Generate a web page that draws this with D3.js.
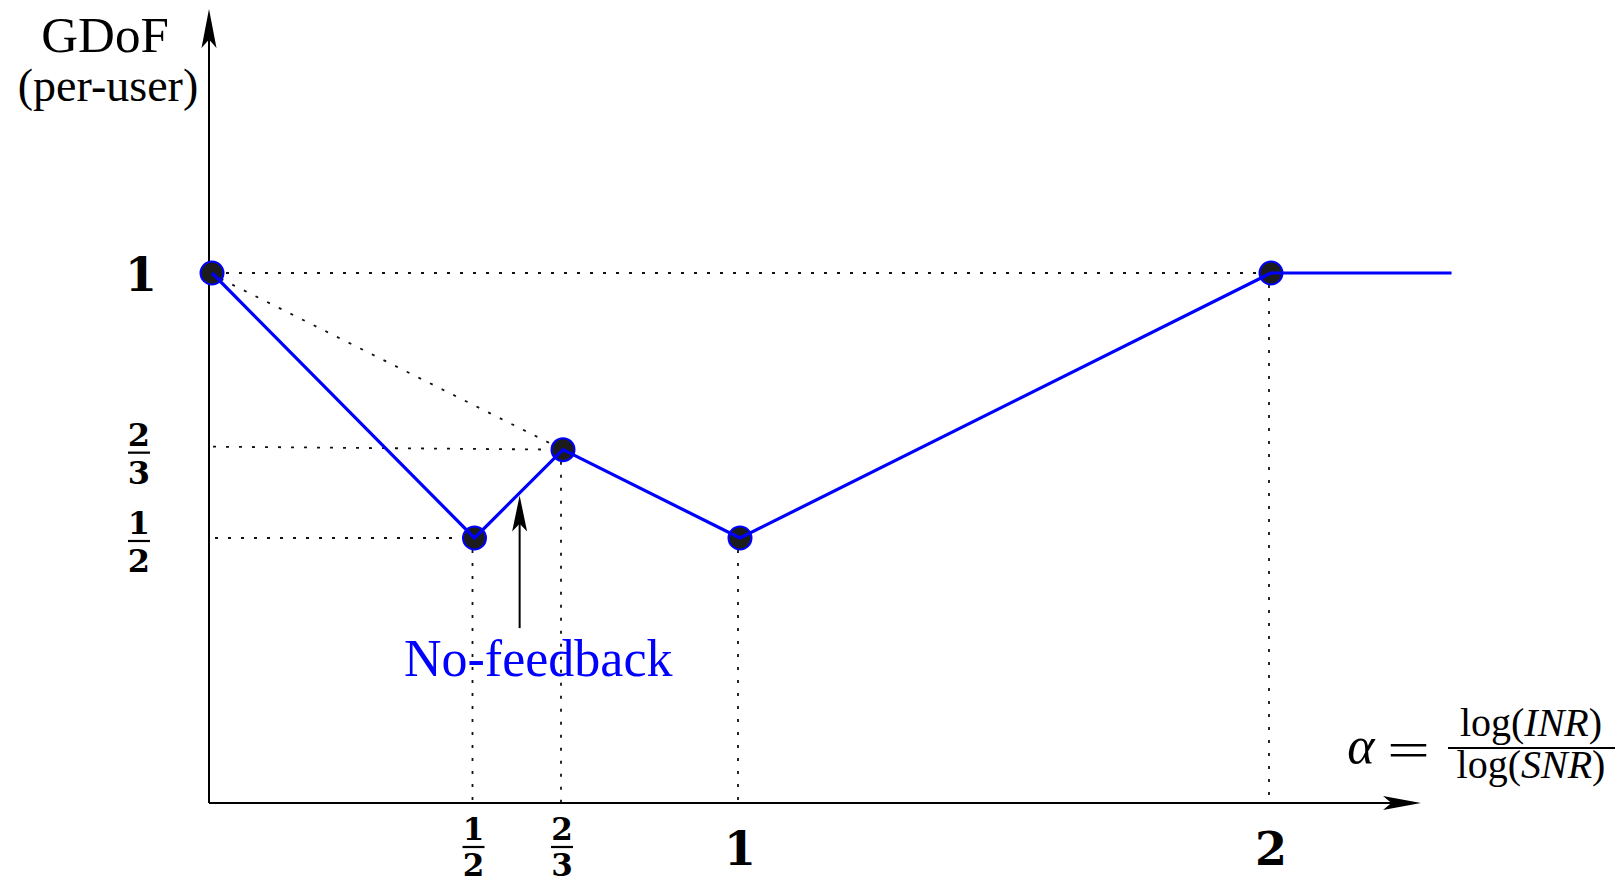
<!DOCTYPE html>
<html>
<head>
<meta charset="utf-8">
<script src="https://cdn.jsdelivr.net/npm/d3@7/dist/d3.min.js"></script>
<style>
  html, body { margin: 0; padding: 0; background: #fff; }
  svg { display: block; }
  text { font-family: "Liberation Serif", "DejaVu Serif", serif; }
  .num { font-family: "DejaVu Serif", "Liberation Serif", serif; font-weight: bold; }
</style>
</head>
<body>
<svg id="chart" width="1621" height="886"></svg>
<script>
// ---- data ----
const alphaValues = [0, 1/2, 2/3, 1, 2, 2.34];
const gdofValues  = [1, 1/2, 2/3, 1/2, 1, 1];
const markerCount = 5;               // markers on the first five points
const xTickValues = [1/2, 2/3, 1, 2];
const xTickLabels = [["1","2"], ["2","3"], "1", "2"];
const yTickValues = [1, 2/3, 1/2];
const yTickLabels = ["1", ["2","3"], ["1","2"]];
const annotationText = "No-feedback";
const annotationAlpha = 0.585;       // arrow position (data units)
const annotationFrom = 0.33, annotationTo = 0.58;
const annotationTextAt = [0.62, 0.24];

// ---- scales ----
const x = d3.scaleLinear().domain([0, 2]).range([209, 1271]);
const y = d3.scaleLinear().domain([0, 1]).range([803, 273]);

const svg = d3.select("#chart");

function arrowHead(g, tipX, tipY, dir, len, hw) {
  let pts;
  if (dir === "right") {
    pts = [[tipX, tipY], [tipX - len, tipY - hw], [tipX - len * 0.78, tipY], [tipX - len, tipY + hw]];
  } else {
    pts = [[tipX, tipY], [tipX - hw, tipY + len], [tipX, tipY + len * 0.78], [tipX + hw, tipY + len]];
  }
  g.append("path").attr("d", "M" + pts.map(p => p.join(",")).join("L") + "Z").attr("fill", "#000");
}

// ---- dotted guides ----
const guides = svg.append("g").attr("stroke", "#111").attr("stroke-width", 1.8)
  .attr("stroke-dasharray", "3,10").attr("fill", "none");
const pts = alphaValues.map((a, i) => [a, gdofValues[i]]);
guides.append("line").attr("x1", x(0) + 4).attr("y1", y(1)).attr("x2", x(2)).attr("y2", y(1));
guides.append("line").attr("x1", x(0) + 4).attr("y1", y(2/3) - 3).attr("x2", x(2/3)).attr("y2", y(2/3));
guides.append("line").attr("x1", x(0) + 6).attr("y1", y(1/2)).attr("x2", x(1/2)).attr("y2", y(1/2));
guides.append("line").attr("x1", x(0)).attr("y1", y(1)).attr("x2", x(2/3)).attr("y2", y(2/3));
pts.slice(1, markerCount).forEach(p => {
  guides.append("line").attr("x1", x(p[0]) - 2).attr("y1", y(p[1]) + 12).attr("x2", x(p[0]) - 2).attr("y2", y(0));
});

// ---- axes ----
const axes = svg.append("g");
axes.append("line").attr("x1", x(0)).attr("y1", y(0)).attr("x2", 1400).attr("y2", y(0))
  .attr("stroke", "#000").attr("stroke-width", 2);
arrowHead(axes, 1421, y(0), "right", 38, 7);
axes.append("line").attr("x1", x(0)).attr("y1", y(0)).attr("x2", x(0)).attr("y2", 30)
  .attr("stroke", "#000").attr("stroke-width", 2);
arrowHead(axes, x(0), 9, "up", 39, 7.5);

// ---- markers & line ----
svg.append("g").selectAll("circle").data(pts.slice(0, markerCount)).join("circle")
  .attr("cx", d => x(d[0]) + (d[0] === 0 ? 3 : 0)).attr("cy", d => y(d[1]))
  .attr("r", 11.5).attr("fill", "#1c1c1c").attr("stroke", "#0000ff").attr("stroke-width", 2);

const line = d3.line().x(d => x(d[0]) + (d[0] === 0 ? 3 : 0)).y(d => y(d[1]));
svg.append("path").datum(pts).attr("d", line)
  .attr("fill", "none").attr("stroke", "#0000ff").attr("stroke-width", 3.2).attr("stroke-linejoin", "round");

// ---- tick labels ----
function fraction(g, cx, barY, num, den, size, barW, denOff) {
  g.append("text").attr("class", "num").attr("x", cx).attr("y", barY - 7).attr("text-anchor", "middle")
    .attr("font-size", size).text(num);
  g.append("line").attr("x1", cx - barW / 2).attr("x2", cx + barW / 2).attr("y1", barY).attr("y2", barY)
    .attr("stroke", "#000").attr("stroke-width", 2.2);
  g.append("text").attr("class", "num").attr("x", cx).attr("y", barY + denOff).attr("text-anchor", "middle")
    .attr("font-size", size).text(den);
}
const ticks = svg.append("g").attr("fill", "#000");
xTickValues.forEach((v, i) => {
  const lab = xTickLabels[i];
  if (Array.isArray(lab)) fraction(ticks, x(v) - 1, y(0) + 44, lab[0], lab[1], 31, 22, 29);
  else ticks.append("text").attr("class", "num").attr("x", x(v)).attr("y", y(0) + 62).attr("text-anchor", "middle")
    .attr("font-size", 46).text(lab);
});
yTickValues.forEach((v, i) => {
  const lab = yTickLabels[i];
  if (Array.isArray(lab)) fraction(ticks, 139, y(v) + 3, lab[0], lab[1], 32, 22, 31);
  else ticks.append("text").attr("class", "num").attr("x", 141).attr("y", y(v) + 18).attr("text-anchor", "middle")
    .attr("font-size", 46).text(lab);
});

// ---- axis titles ----
svg.append("text").attr("x", 105).attr("y", 52).attr("text-anchor", "middle")
  .attr("font-size", 51).text("GDoF");
svg.append("text").attr("x", 108).attr("y", 101).attr("text-anchor", "middle")
  .attr("font-size", 46).text("(per-user)");

const xt = svg.append("g");
xt.append("text").attr("x", 1361).attr("y", 763).attr("text-anchor", "middle")
  .attr("font-size", 52).attr("font-style", "italic").text("α");
xt.append("text").attr("x", 1387).attr("y", 767).attr("textLength", 43).attr("lengthAdjust", "spacingAndGlyphs")
  .attr("font-size", 50).text("=");
xt.append("line").attr("x1", 1448).attr("x2", 1615).attr("y1", 748).attr("y2", 748)
  .attr("stroke", "#000").attr("stroke-width", 1.8);
const num = xt.append("text").attr("x", 1531).attr("y", 736).attr("text-anchor", "middle").attr("font-size", 40);
num.append("tspan").text("log(");
num.append("tspan").attr("font-style", "italic").text("INR");
num.append("tspan").text(")");
const den = xt.append("text").attr("x", 1531).attr("y", 778).attr("text-anchor", "middle").attr("font-size", 40);
den.append("tspan").text("log(");
den.append("tspan").attr("font-style", "italic").text("SNR");
den.append("tspan").text(")");

// ---- annotation ----
const ann = svg.append("g");
ann.append("line").attr("x1", x(annotationAlpha)).attr("x2", x(annotationAlpha))
  .attr("y1", y(annotationFrom)).attr("y2", y(annotationTo) + 20)
  .attr("stroke", "#000").attr("stroke-width", 2);
arrowHead(ann, x(annotationAlpha), y(annotationTo), "up", 36, 7.5);
ann.append("text").attr("x", x(annotationTextAt[0])).attr("y", y(annotationTextAt[1]))
  .attr("text-anchor", "middle").attr("font-size", 52).attr("fill", "#0000ff").text(annotationText);
</script>
</body>
</html>
